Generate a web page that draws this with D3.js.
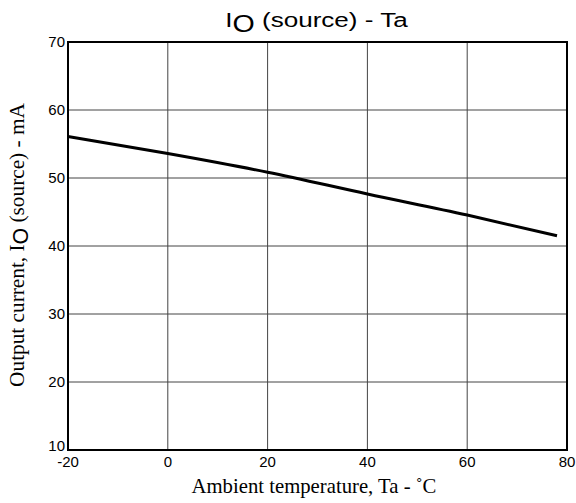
<!DOCTYPE html>
<html lang="en">
<head>
    <meta charset="utf-8">
    <title>IO (source) - Ta</title>
    <script src="https://cdn.jsdelivr.net/npm/d3@7"></script>
    <style>
        body { margin: 0; background: #fff; }
        svg { display: block; }
    </style>
</head>
<body>
<script>
    // Data
    var temps = [-20, 0, 20, 40, 60, 78];
    var currents = [56.1, 53.6, 50.85, 47.65, 44.55, 41.5];

    var xTicks = [-20, 0, 20, 40, 60, 80];
    var yTicks = [10, 20, 30, 40, 50, 60, 70];

    var w = 576, h = 503;
    var padLeft = 68, padRight = 567, padTop = 42, padBottom = 450;

    var sans = "Liberation Sans, Arial, sans-serif";
    var serif = "Liberation Serif, Times New Roman, serif";

    var x = d3.scaleLinear().domain([-20, 80]).range([padLeft, padRight]);
    var y = d3.scaleLinear().domain([10, 70]).range([padBottom, padTop]);

    var svg = d3.select("body").append("svg")
        .attr("width", w)
        .attr("height", h);

    // grid
    svg.append("g")
        .selectAll("line")
        .data(xTicks.slice(1, -1))
        .enter().append("line")
        .attr("x1", function(d) { return x(d); })
        .attr("x2", function(d) { return x(d); })
        .attr("y1", padTop).attr("y2", padBottom)
        .attr("stroke", "#444").attr("stroke-width", 1);

    svg.append("g")
        .selectAll("line")
        .data(yTicks.slice(1, -1))
        .enter().append("line")
        .attr("y1", function(d) { return y(d); })
        .attr("y2", function(d) { return y(d); })
        .attr("x1", padLeft).attr("x2", padRight)
        .attr("stroke", "#444").attr("stroke-width", 1);

    // frame
    svg.append("rect")
        .attr("x", padLeft).attr("y", padTop)
        .attr("width", padRight - padLeft).attr("height", padBottom - padTop)
        .attr("fill", "none").attr("stroke", "#000").attr("stroke-width", 2);

    // curve
    var line = d3.line()
        .x(function(d, i) { return x(temps[i]); })
        .y(function(d) { return y(d); })
        .curve(d3.curveMonotoneX);

    svg.append("path")
        .datum(currents)
        .attr("d", line)
        .attr("fill", "none")
        .attr("stroke", "#000")
        .attr("stroke-width", 3);

    // tick labels
    svg.append("g")
        .selectAll("text")
        .data(xTicks)
        .enter().append("text")
        .attr("x", function(d) { return x(d); })
        .attr("y", 467)
        .attr("text-anchor", "middle")
        .attr("font-family", sans)
        .attr("font-size", "15px")
        .text(function(d) { return d; });

    svg.append("g")
        .selectAll("text")
        .data(yTicks)
        .enter().append("text")
        .attr("x", 65)
        .attr("y", function(d) { return d === 10 ? y(d) + 1 : y(d) + 5; })
        .attr("text-anchor", "end")
        .attr("font-family", sans)
        .attr("font-size", "15px")
        .text(function(d) { return d; });

    // stretch a label so it spans the same length as in the picture
    function fit(sel, target, pre) {
        var bw = sel.node().getBBox().width;
        sel.attr("transform", pre + " scale(" + (target / bw) + ",1)");
    }

    // title
    var title = svg.append("text")
        .attr("text-anchor", "middle")
        .attr("font-family", sans)
        .attr("font-size", "21px");
    title.append("tspan").text("I");
    title.append("tspan").attr("dy", 5).attr("font-size", "23px").text("O");
    title.append("tspan").attr("dy", -5).text(" (source) - Ta");
    fit(title, 183, "translate(316.5,27)");

    // x label
    var xl = svg.append("text")
        .attr("text-anchor", "middle")
        .attr("font-family", serif)
        .attr("font-size", "22px")
        .text("Ambient temperature, Ta - \u02daC");
    fit(xl, 245, "translate(314,493)");

    // y label
    var yl = svg.append("text")
        .attr("text-anchor", "middle")
        .attr("font-family", serif)
        .attr("font-size", "22px");
    yl.append("tspan").text("Output current, I");
    yl.append("tspan").attr("dy", 4).attr("font-family", sans).text("O");
    yl.append("tspan").attr("dy", -4).text(" (source) - mA");
    fit(yl, 284, "translate(23.5,245) rotate(-90)");
</script>
</body>
</html>
